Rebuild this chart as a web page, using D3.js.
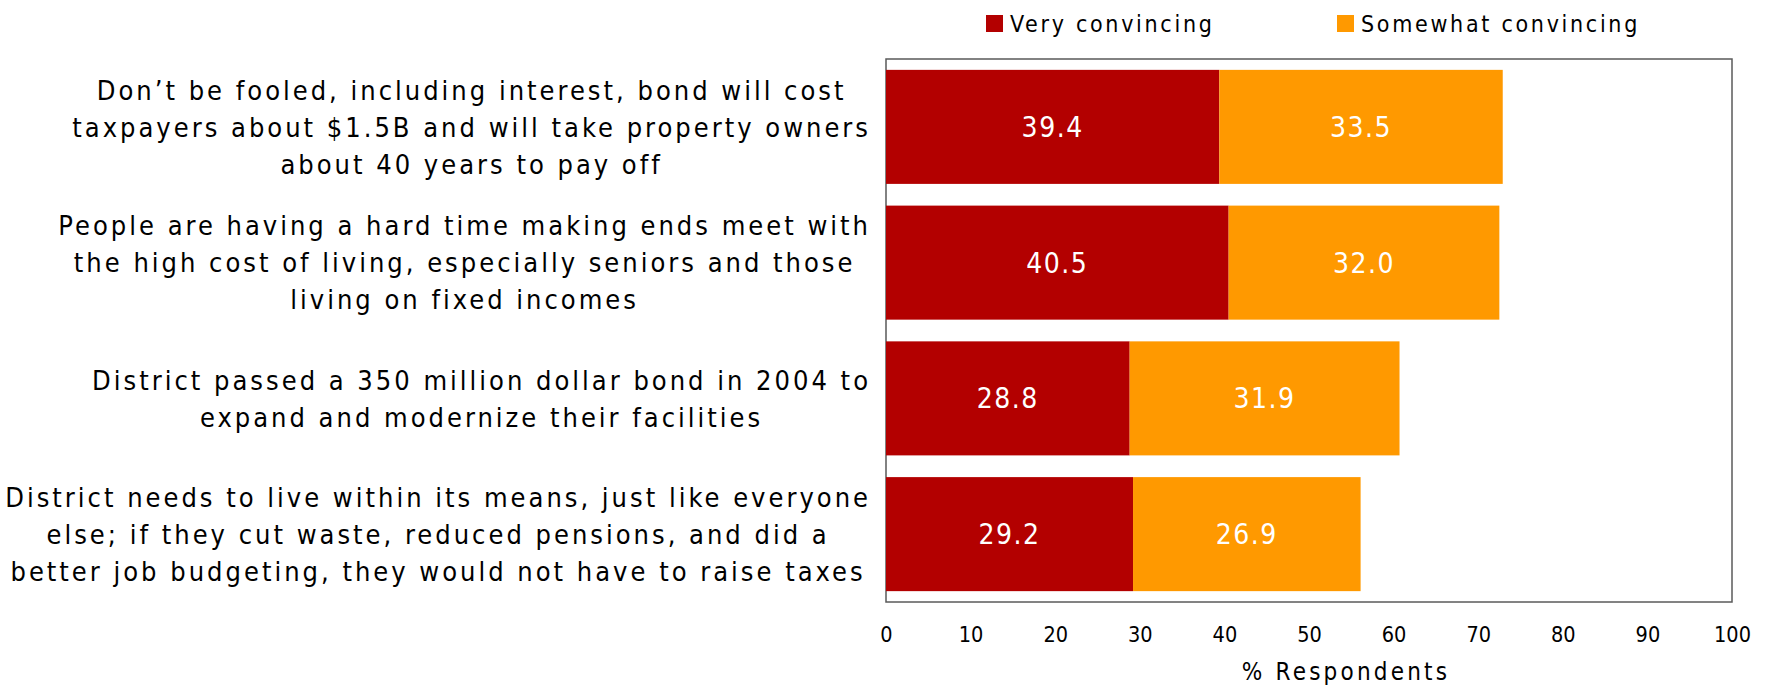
<!DOCTYPE html>
<html>
<head>
<meta charset="utf-8">
<script src="https://cdn.jsdelivr.net/npm/d3@7"></script>
<style>
  html, body { margin: 0; padding: 0; background: #fff; }
  svg { display: block; }
  text { font-family: "DejaVu Sans Condensed", "DejaVu Sans", sans-serif; }
</style>
</head>
<body>
<svg id="chart" width="1767" height="687"></svg>
<script>
// Survey statements (one entry per bar, wrapped lines)
const statements = [
  ["Don\u2019t be fooled, including interest, bond will cost",
   "taxpayers about $1.5B and will take property owners",
   "about 40 years to pay off"],
  ["People are having a hard time making ends meet with",
   "the high cost of living, especially seniors and those",
   "living on fixed incomes"],
  ["District passed a 350 million dollar bond in 2004 to",
   "expand and modernize their facilities"],
  ["District needs to live within its means, just like everyone",
   "else; if they cut waste, reduced pensions, and did a",
   "better job budgeting, they would not have to raise taxes"]
];
const seriesNames = ["Very convincing", "Somewhat convincing"];
const veryConvincing = [39.4, 40.5, 28.8, 29.2];
const somewhatConvincing = [33.5, 32.0, 31.9, 26.9];
const xTicks = [0, 10, 20, 30, 40, 50, 60, 70, 80, 90, 100];
const axisTitle = "% Respondents";
const colors = ["#B30000", "#FF9900"];

const svg = d3.select("#chart");
const plot = { left: 886, right: 1732, top: 59, bottom: 602 };

const x = d3.scaleLinear().domain([0, 100]).range([plot.left, plot.right]);
const y = d3.scaleBand().domain(d3.range(statements.length))
  .range([plot.top, plot.bottom]).paddingInner(0.16).paddingOuter(0.08);

// Plot frame
svg.append("rect")
  .attr("x", plot.left).attr("y", plot.top)
  .attr("width", plot.right - plot.left).attr("height", plot.bottom - plot.top)
  .attr("fill", "#fff").attr("stroke", "#5a5a5a").attr("stroke-width", 1.5);

// Stacked segments
const rows = statements.map((s, i) => ({ i, vals: [veryConvincing[i], somewhatConvincing[i]] }));
const segs = [];
rows.forEach(r => {
  let start = 0;
  r.vals.forEach((v, k) => { segs.push({ i: r.i, k, x0: start, x1: start + v, v }); start += v; });
});

svg.append("g").selectAll("rect").data(segs).join("rect")
  .attr("x", d => x(d.x0))
  .attr("y", d => y(d.i))
  .attr("width", d => x(d.x1) - x(d.x0))
  .attr("height", y.bandwidth())
  .attr("fill", d => colors[d.k]);

svg.append("g").selectAll("text").data(segs).join("text")
  .attr("x", d => (x(d.x0) + x(d.x1)) / 2)
  .attr("y", d => y(d.i) + y.bandwidth() / 2)
  .attr("dy", "0.36em")
  .attr("text-anchor", "middle")
  .attr("fill", "#fff")
  .style("font-size", "28px")
  .style("letter-spacing", "1.5px")
  .text(d => d.v.toFixed(1));

// Category labels: each block centred on itself, right edge at the label margin
const labelRight = 871;
const lineGap = 37;
const labels = svg.append("g")
  .style("font-size", "27px")
  .style("letter-spacing", "3px")
  .attr("fill", "#000");
statements.forEach((lines, i) => {
  const g = labels.append("g");
  const cy = y(i) + y.bandwidth() / 2;
  const n = lines.length;
  const ts = g.selectAll("text").data(lines).join("text")
    .attr("y", (d, j) => cy + (j - (n - 1) / 2) * lineGap)
    .attr("dy", "0.36em")
    .attr("text-anchor", "middle")
    .text(d => d);
  let maxW = 0;
  ts.each(function () { maxW = Math.max(maxW, this.getComputedTextLength()); });
  ts.attr("x", labelRight - maxW / 2);
});

// X axis (labels only)
const xAxis = svg.append("g")
  .attr("transform", `translate(0,${plot.bottom})`)
  .call(d3.axisBottom(x).tickValues(xTicks).tickSize(0).tickPadding(0).tickFormat(d3.format("d")));
xAxis.select(".domain").remove();
xAxis.selectAll("text")
  .attr("y", 40).attr("dy", 0)
  .attr("fill", "#000")
  .style("font-family", "\"DejaVu Sans Condensed\", \"DejaVu Sans\", sans-serif")
  .style("font-size", "21.5px");

svg.append("text")
  .attr("x", 1346).attr("y", 680)
  .attr("text-anchor", "middle")
  .style("font-size", "24px")
  .style("letter-spacing", "3.2px")
  .text(axisTitle);

// Legend
const legendX = [986, 1337];
const lg = svg.append("g").selectAll("g").data(seriesNames).join("g")
  .attr("transform", (d, i) => `translate(${legendX[i]},15)`);
lg.append("rect").attr("width", 17).attr("height", 17).attr("fill", (d, i) => colors[i]);
lg.append("text").attr("x", 24).attr("y", 16.5)
  .style("font-size", "23px")
  .style("letter-spacing", "2.7px")
  .text(d => d);
</script>
</body>
</html>
